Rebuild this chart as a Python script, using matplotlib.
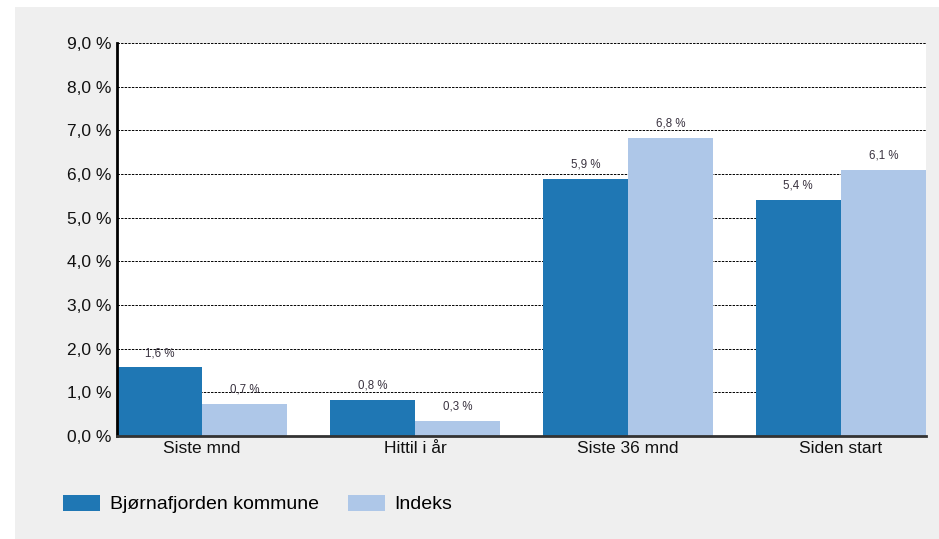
import matplotlib
matplotlib.use("Agg")
import numpy as np
import matplotlib.pyplot as plt
from matplotlib.patches import Rectangle

# data
categories = ["Siste mnd", "Hittil i år", "Siste 36 mnd", "Siden start"]
kommune = [1.57, 0.82, 5.89, 5.41]
indeks = [0.74, 0.34, 6.83, 6.10]
series_names = ["Bjørnafjorden kommune", "Indeks"]
yticks = [0, 1, 2, 3, 4, 5, 6, 7, 8, 9]

dark = "#1f77b4"
light = "#aec7e8"

plt.rcParams["font.family"] = ["Liberation Sans", "DejaVu Sans"]

W, H = 939, 539
fig = plt.figure(figsize=(W / 100, H / 100), dpi=100)
fig.patch.set_facecolor("white")
# grey panel behind everything
fig.patches.append(Rectangle((15 / W, 0), 1, (H - 7) / H, transform=fig.transFigure,
                             facecolor="#efefef", edgecolor="none", zorder=-10))

ax = fig.add_axes([117 / W, (H - 436) / H, (926 - 117) / W, (436 - 43) / H])
ax.set_facecolor("white")

x = np.arange(len(categories))
bw = 0.4
b1 = ax.bar(x - bw / 2, kommune, bw, color=dark, zorder=2, label=series_names[0])
b2 = ax.bar(x + bw / 2, indeks, bw, color=light, zorder=2, label=series_names[1])

for bars, vals in ((b1, kommune), (b2, indeks)):
    for b, v in zip(bars, vals):
        ax.annotate(("%.1f" % v).replace(".", ",") + " %",
                    (b.get_x() + b.get_width() / 2, b.get_height()),
                    xytext=(0, 6), textcoords="offset points",
                    ha="center", va="bottom", fontsize=8.3, color="#3a3340")

ax.set_xlim(-0.4, len(categories) - 0.6)
ax.set_ylim(0, 9)
ax.set_yticks(yticks)
ax.set_yticklabels([("%.1f" % t).replace(".", ",") + " %" for t in yticks],
                   fontsize=12.5, color="#111111")
ax.set_xticks(x)
ax.set_xticklabels(categories, fontsize=12.5, color="#111111")
ax.tick_params(axis="x", length=0, pad=3.5)
ax.tick_params(axis="y", length=0, pad=4)

ax.yaxis.grid(True, linestyle=(0, (2.5, 1.2)), color="black", linewidth=0.7, zorder=1)
ax.set_axisbelow(True)
for s in ("top", "right"):
    ax.spines[s].set_visible(False)
ax.spines["left"].set_linewidth(2)
ax.spines["bottom"].set_linewidth(2)
ax.spines["bottom"].set_color("#333333")

fig.legend(handles=[b1, b2], labels=series_names, loc="center left",
           bbox_to_anchor=(63 / W, (H - 504) / H), ncol=2, frameon=False,
           fontsize=14, handlelength=1.9, handleheight=0.9,
           columnspacing=1.5, handletextpad=0.5, borderpad=0, borderaxespad=0)

fig.savefig("out.png", dpi=100)
